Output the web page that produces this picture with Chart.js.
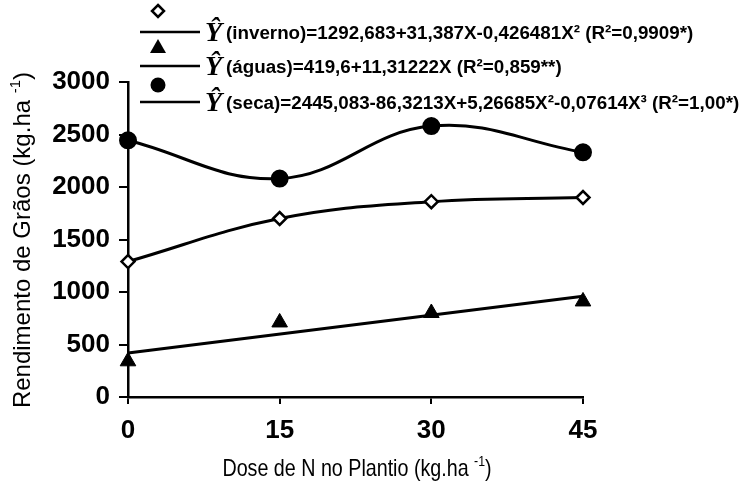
<!DOCTYPE html>
<html>
<head>
<meta charset="utf-8">
<script src="https://cdn.jsdelivr.net/npm/chart.js@4"></script>
<style>
html,body{margin:0;padding:0;background:#fff;}
#wrap{width:739px;height:490px;position:relative;}
</style>
</head>
<body>
<div id="wrap"><canvas id="c" width="739" height="490"></canvas></div>
<script>
// ---- data ----
const doses = [0, 15, 30, 45];
const inverno = [1290, 1700, 1860, 1900];
const aguas = [340, 710, 800, 910];
const seca = [2445, 2080, 2580, 2330];
const aguasFitDoses = [0, 45];
const aguasFit = [420, 960];
const yTicks = [0, 500, 1000, 1500, 2000, 2500, 3000];
const xTicks = [0, 15, 30, 45];
const legendTexts = [
  "(inverno)=1292,683+31,387X-0,426481X\u00B2 (R\u00B2=0,9909*)",
  "(\u00E1guas)=419,6+11,31222X (R\u00B2=0,859**)",
  "(seca)=2445,083-86,3213X+5,26685X\u00B2-0,07614X\u00B3 (R\u00B2=1,00*)"
];
const xTitle = "Dose de N no Plantio (kg.ha";
const yTitle = "Rendimento de Gr\u00E3os (kg.ha";
const unitSup = "-1";

const pts = (xs, ys) => xs.map((x, i) => ({x: x, y: ys[i]}));

const SANS = '"Liberation Sans", Arial, sans-serif';

function drawTitle(ctx, main, sup, font, supFont, cx, by) {
  ctx.font = font;
  const w1 = ctx.measureText(main + ' ').width;
  ctx.font = supFont; const ws = ctx.measureText(sup).width;
  ctx.font = font; const w2 = ctx.measureText(')').width;
  const sx = cx - (w1 + ws + w2) / 2;
  ctx.fillText(main + ' ', sx, by);
  ctx.font = supFont; ctx.fillText(sup, sx + w1, by - 10);
  ctx.font = font; ctx.fillText(')', sx + w1 + ws, by);
}

const legendPlugin = {
  id: 'customLegend',
  afterDraw(chart) {
    const ctx = chart.ctx;
    ctx.save();
    const rows = [
      {lineY: 32, markY: 11, style: 'diamond'},
      {lineY: 66, markY: 47, style: 'triangle'},
      {lineY: 102, markY: 85, style: 'circle'}
    ];
    rows.forEach((r, i) => {
      ctx.strokeStyle = '#000';
      ctx.lineWidth = 2.5;
      ctx.beginPath();
      ctx.moveTo(140, r.lineY); ctx.lineTo(200, r.lineY); ctx.stroke();
      const mx = 158;
      ctx.fillStyle = '#000';
      if (r.style === 'diamond') {
        ctx.beginPath();
        ctx.moveTo(mx, r.markY - 6); ctx.lineTo(mx + 6, r.markY);
        ctx.lineTo(mx, r.markY + 6); ctx.lineTo(mx - 6, r.markY); ctx.closePath();
        ctx.fillStyle = '#fff'; ctx.fill();
        ctx.lineWidth = 2.5; ctx.stroke();
      } else if (r.style === 'triangle') {
        ctx.beginPath();
        ctx.moveTo(mx, r.markY - 8); ctx.lineTo(mx + 8, r.markY + 6);
        ctx.lineTo(mx - 8, r.markY + 6); ctx.closePath(); ctx.fill();
      } else {
        ctx.beginPath(); ctx.arc(mx, r.markY, 7.5, 0, Math.PI * 2); ctx.fill();
      }
      ctx.fillStyle = '#000';
      ctx.textBaseline = 'middle';
      ctx.textAlign = 'left';
      ctx.font = 'italic bold 28px "Liberation Serif", "Times New Roman", serif';
      ctx.fillText('\u0176', 205, r.lineY + 2);
      ctx.font = 'bold 18.8px ' + SANS;
      ctx.fillText(legendTexts[i], 226, r.lineY + 2);
    });
    ctx.textBaseline = 'alphabetic';
    // x title (slightly condensed like the reference)
    ctx.save();
    ctx.translate(357, 476);
    ctx.scale(0.82, 1);
    drawTitle(ctx, xTitle, unitSup, '24px ' + SANS, '15px ' + SANS, 0, 0);
    ctx.restore();
    // y title rotated
    ctx.save();
    ctx.translate(30, 240);
    ctx.rotate(-Math.PI / 2);
    drawTitle(ctx, yTitle, unitSup, '24px ' + SANS, '15px ' + SANS, 0, 0);
    ctx.restore();
    ctx.restore();
  }
};

new Chart(document.getElementById('c'), {
  type: 'scatter',
  data: {
    datasets: [
      {label: 'seca', data: pts(doses, seca), showLine: true, tension: 0.4, clip: false,
       borderColor: '#000', borderWidth: 3, pointStyle: 'circle', pointRadius: 7.5,
       pointBackgroundColor: '#000', pointBorderColor: '#000'},
      {label: 'inverno', data: pts(doses, inverno), showLine: true, tension: 0.4, clip: false,
       borderColor: '#000', borderWidth: 3, pointStyle: 'rectRot', pointRadius: 6.5,
       pointBackgroundColor: '#fff', pointBorderColor: '#000', pointBorderWidth: 2.5},
      {label: 'aguas ajuste', data: pts(aguasFitDoses, aguasFit), showLine: true, clip: false,
       borderColor: '#000', borderWidth: 3, pointRadius: 0},
      {label: 'aguas', data: pts(doses, aguas), showLine: false, clip: false,
       pointStyle: 'triangle', pointRadius: 9, pointBackgroundColor: '#000', pointBorderColor: '#000'}
    ]
  },
  options: {
    responsive: false,
    animation: false,
    layout: {padding: {left: 0, right: 156, top: 82, bottom: 0}},
    plugins: {legend: {display: false}, tooltip: {enabled: false}},
    scales: {
      x: {
        type: 'linear', min: 0, max: 45,
        afterBuildTicks(s) { s.ticks = xTicks.map(v => ({value: v})); },
        afterFit(s) { s.height = 93; },
        grid: {drawOnChartArea: false, drawTicks: true, tickLength: 7, color: '#000', lineWidth: 2},
        border: {display: true, color: '#000', width: 2.5},
        ticks: {color: '#000', padding: 11, callback: v => String(v),
                font: {family: SANS, size: 26, weight: 'bold'}, maxRotation: 0}
      },
      y: {
        min: 0, max: 3000,
        afterBuildTicks(s) { s.ticks = yTicks.map(v => ({value: v})); },
        afterFit(s) { s.width = 128; },
        grid: {drawOnChartArea: false, drawTicks: true, tickLength: 9, color: '#000', lineWidth: 2},
        border: {display: true, color: '#000', width: 2.5},
        ticks: {color: '#000', padding: 9, callback: v => String(v),
                font: {family: SANS, size: 26, weight: 'bold'}}
      }
    }
  },
  plugins: [legendPlugin]
});
</script>
</body>
</html>
